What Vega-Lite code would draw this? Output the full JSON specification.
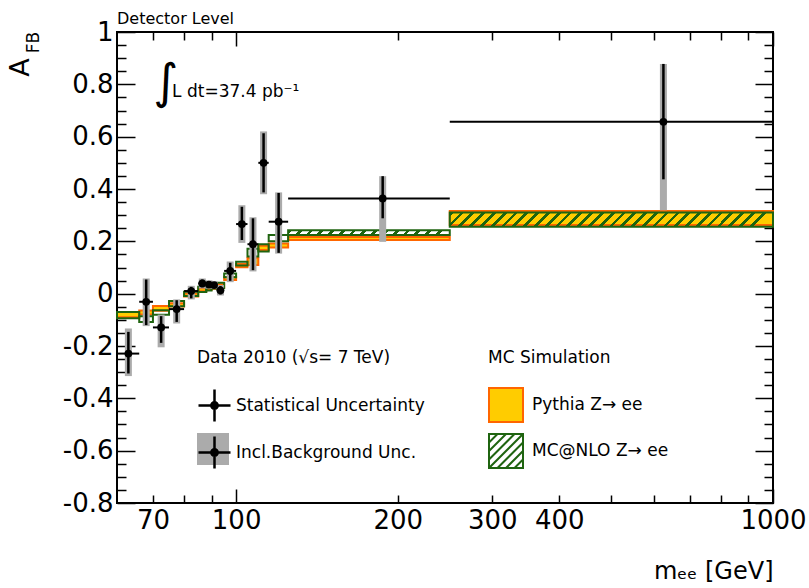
{
  "$schema": "https://vega.github.io/schema/vega-lite/v6.json",
  "width": 656,
  "height": 471,
  "autosize": {"type": "none"},
  "padding": {"left": 117, "top": 32, "right": 36, "bottom": 85},
  "background": "white",
  "title": {"text": "Detector Level", "anchor": "start", "frame": "group", "offset": -8, "font": "DejaVu Sans", "fontSize": 16, "fontWeight": "normal", "color": "black"},
  "config": {
    "view": {"stroke": "black", "strokeWidth": 2},
    "axis": {"grid": false, "domain": false, "labelFont": "DejaVu Sans", "labelFontSize": 26, "labelColor": "black", "tickColor": "black", "tickWidth": 1.5, "titleFont": "DejaVu Sans", "titleFontWeight": "normal", "titleColor": "black", "labelOverlap": false, "labelFlush": false, "labelBound": false}
  },
  "datasets": {
    "atlas": [
      {"lo": 60, "hi": 66, "m": 63, "afb": -0.229, "stat_lo": -0.305, "stat_hi": -0.146, "tot_lo": -0.315, "tot_hi": -0.133},
      {"lo": 66, "hi": 70, "m": 68, "afb": -0.031, "stat_lo": -0.12, "stat_hi": 0.054, "tot_lo": -0.124, "tot_hi": 0.058},
      {"lo": 70, "hi": 75, "m": 72.5, "afb": -0.129, "stat_lo": -0.188, "stat_hi": -0.086, "tot_lo": -0.205, "tot_hi": -0.08},
      {"lo": 75, "hi": 80, "m": 77.5, "afb": -0.059, "stat_lo": -0.108, "stat_hi": -0.025, "tot_lo": -0.114, "tot_hi": -0.022},
      {"lo": 80, "hi": 85, "m": 82.5, "afb": 0.01, "stat_lo": -0.018, "stat_hi": 0.026, "tot_lo": -0.022, "tot_hi": 0.03},
      {"lo": 85, "hi": 88, "m": 86.5, "afb": 0.039, "stat_lo": 0.024, "stat_hi": 0.054, "tot_lo": 0.02, "tot_hi": 0.058},
      {"lo": 88, "hi": 90, "m": 89, "afb": 0.035, "stat_lo": 0.022, "stat_hi": 0.048, "tot_lo": 0.019, "tot_hi": 0.051},
      {"lo": 90, "hi": 92, "m": 91, "afb": 0.033, "stat_lo": 0.022, "stat_hi": 0.044, "tot_lo": 0.019, "tot_hi": 0.047},
      {"lo": 92, "hi": 95, "m": 93.5, "afb": 0.013, "stat_lo": -0.003, "stat_hi": 0.029, "tot_lo": -0.007, "tot_hi": 0.033},
      {"lo": 95, "hi": 100, "m": 97.5, "afb": 0.087, "stat_lo": 0.049, "stat_hi": 0.118, "tot_lo": 0.044, "tot_hi": 0.123},
      {"lo": 100, "hi": 105, "m": 102.5, "afb": 0.266, "stat_lo": 0.205, "stat_hi": 0.332, "tot_lo": 0.194, "tot_hi": 0.338},
      {"lo": 105, "hi": 110, "m": 107.5, "afb": 0.189, "stat_lo": 0.09, "stat_hi": 0.288, "tot_lo": 0.085, "tot_hi": 0.292},
      {"lo": 110, "hi": 115, "m": 112.5, "afb": 0.5, "stat_lo": 0.387, "stat_hi": 0.613, "tot_lo": 0.38, "tot_hi": 0.62},
      {"lo": 115, "hi": 125, "m": 120, "afb": 0.275, "stat_lo": 0.156, "stat_hi": 0.385, "tot_lo": 0.153, "tot_hi": 0.387},
      {"lo": 125, "hi": 250, "m": 187.5, "afb": 0.364, "stat_lo": 0.288, "stat_hi": 0.449, "tot_lo": 0.198, "tot_hi": 0.449},
      {"lo": 250, "hi": 1000, "m": 625, "afb": 0.657, "stat_lo": 0.437, "stat_hi": 0.878, "tot_lo": 0.319, "tot_hi": 0.878}
    ],
    "mc": [
      {"gen": "Pythia", "lo": 60, "hi": 66, "a_lo": -0.09, "a_hi": -0.07},
      {"gen": "Pythia", "lo": 66, "hi": 70, "a_lo": -0.08, "a_hi": -0.064},
      {"gen": "Pythia", "lo": 70, "hi": 75, "a_lo": -0.065, "a_hi": -0.047},
      {"gen": "Pythia", "lo": 75, "hi": 80, "a_lo": -0.049, "a_hi": -0.037},
      {"gen": "Pythia", "lo": 80, "hi": 85, "a_lo": -0.011, "a_hi": 0.001},
      {"gen": "Pythia", "lo": 85, "hi": 88, "a_lo": 0.009, "a_hi": 0.021},
      {"gen": "Pythia", "lo": 88, "hi": 90, "a_lo": 0.014, "a_hi": 0.026},
      {"gen": "Pythia", "lo": 90, "hi": 92, "a_lo": 0.019, "a_hi": 0.031},
      {"gen": "Pythia", "lo": 92, "hi": 95, "a_lo": 0.024, "a_hi": 0.036},
      {"gen": "Pythia", "lo": 95, "hi": 100, "a_lo": 0.052, "a_hi": 0.064},
      {"gen": "Pythia", "lo": 100, "hi": 105, "a_lo": 0.101, "a_hi": 0.113},
      {"gen": "Pythia", "lo": 105, "hi": 110, "a_lo": 0.11, "a_hi": 0.136},
      {"gen": "Pythia", "lo": 110, "hi": 115, "a_lo": 0.167, "a_hi": 0.183},
      {"gen": "Pythia", "lo": 115, "hi": 125, "a_lo": 0.176, "a_hi": 0.192},
      {"gen": "Pythia", "lo": 125, "hi": 250, "a_lo": 0.205, "a_hi": 0.217},
      {"gen": "Pythia", "lo": 250, "hi": 1000, "a_lo": 0.262, "a_hi": 0.316},
      {"gen": "MC@NLO", "lo": 60, "hi": 66, "a_lo": -0.094, "a_hi": -0.07},
      {"gen": "MC@NLO", "lo": 66, "hi": 70, "a_lo": -0.108, "a_hi": -0.086},
      {"gen": "MC@NLO", "lo": 70, "hi": 75, "a_lo": -0.081, "a_hi": -0.063},
      {"gen": "MC@NLO", "lo": 75, "hi": 80, "a_lo": -0.048, "a_hi": -0.028},
      {"gen": "MC@NLO", "lo": 80, "hi": 85, "a_lo": -0.009, "a_hi": 0.007},
      {"gen": "MC@NLO", "lo": 85, "hi": 88, "a_lo": 0.006, "a_hi": 0.026},
      {"gen": "MC@NLO", "lo": 88, "hi": 90, "a_lo": 0.012, "a_hi": 0.032},
      {"gen": "MC@NLO", "lo": 90, "hi": 92, "a_lo": 0.02, "a_hi": 0.04},
      {"gen": "MC@NLO", "lo": 92, "hi": 95, "a_lo": 0.022, "a_hi": 0.042},
      {"gen": "MC@NLO", "lo": 95, "hi": 100, "a_lo": 0.063, "a_hi": 0.077},
      {"gen": "MC@NLO", "lo": 100, "hi": 105, "a_lo": 0.108, "a_hi": 0.122},
      {"gen": "MC@NLO", "lo": 105, "hi": 110, "a_lo": 0.142, "a_hi": 0.172},
      {"gen": "MC@NLO", "lo": 110, "hi": 115, "a_lo": 0.161, "a_hi": 0.189},
      {"gen": "MC@NLO", "lo": 115, "hi": 125, "a_lo": 0.2, "a_hi": 0.224},
      {"gen": "MC@NLO", "lo": 125, "hi": 250, "a_lo": 0.224, "a_hi": 0.242},
      {"gen": "MC@NLO", "lo": 250, "hi": 1000, "a_lo": 0.256, "a_hi": 0.31}
    ]
  },
  "layer": [
    {
      "data": {"name": "mc"},
      "transform": [{"filter": "datum.gen === 'Pythia'"}],
      "mark": {"type": "rect", "fill": "#ffcc00", "stroke": "#ff6600", "strokeWidth": 2},
      "encoding": {
        "x": {
          "field": "lo", "type": "quantitative",
          "scale": {"type": "log", "domain": [60, 1000], "nice": false},
          "axis": {
            "orient": "bottom",
            "values": [70, 80, 90, 100, 200, 300, 400, 500, 600, 700, 800, 900, 1000],
            "labelExpr": "indexof([70, 100, 200, 300, 400, 1000], datum.value) >= 0 ? format(datum.value, 'd') : ''",
            "tickSize": {"condition": {"test": "datum.value == 100 || datum.value == 1000", "value": -14}, "value": -8},
            "labelPadding": {"condition": {"test": "datum.value == 100 || datum.value == 1000", "value": 18}, "value": 12},
            "title": "mₑₑ [GeV]", "titleFontSize": 24, "titleX": 656, "titleY": 75, "titleAlign": "right", "titleBaseline": "alphabetic", "titleAnchor": "end"
          }
        },
        "x2": {"field": "hi"},
        "y": {
          "field": "a_lo", "type": "quantitative",
          "scale": {"domain": [-0.8, 1], "nice": false, "zero": false},
          "axis": {
            "orient": "left",
            "values": [-0.8, -0.75, -0.7, -0.65, -0.6, -0.55, -0.5, -0.45, -0.4, -0.35, -0.3, -0.25, -0.2, -0.15, -0.1, -0.05, 0, 0.05, 0.1, 0.15, 0.2, 0.25, 0.3, 0.35, 0.4, 0.45, 0.5, 0.55, 0.6, 0.65, 0.7, 0.75, 0.8, 0.85, 0.9, 0.95, 1],
            "labelExpr": "abs(datum.value * 5 - round(datum.value * 5)) < 0.001 ? replace(format(datum.value, '.1~f'), '\u2212', '-') : ''",
            "tickSize": {"condition": {"test": "abs(datum.value * 5 - round(datum.value * 5)) < 0.001", "value": -18}, "value": -9},
            "labelPadding": 22,
            "title": "A", "titleFontSize": 27, "titleAngle": 270, "titleX": -89, "titleY": 35, "titleAlign": "center", "titleBaseline": "alphabetic"
          }
        },
        "y2": {"field": "a_hi"}
      }
    },
    {
      "data": {"name": "mc"},
      "transform": [{"filter": "datum.gen === 'MC@NLO'"}],
      "mark": {"type": "rect", "stroke": "#1f6410", "strokeWidth": 2},
      "encoding": {
        "x": {
          "field": "lo", "type": "quantitative",
          "axis": {
            "orient": "top", "labels": false, "title": null,
            "values": [70, 80, 90, 100, 200, 300, 400, 500, 600, 700, 800, 900, 1000],
            "tickSize": {"condition": {"test": "datum.value == 100 || datum.value == 1000", "value": -14}, "value": -8}
          }
        },
        "x2": {"field": "hi"},
        "y": {
          "field": "a_lo", "type": "quantitative",
          "axis": {
            "orient": "right", "labels": false,
            "values": [-0.8, -0.75, -0.7, -0.65, -0.6, -0.55, -0.5, -0.45, -0.4, -0.35, -0.3, -0.25, -0.2, -0.15, -0.1, -0.05, 0, 0.05, 0.1, 0.15, 0.2, 0.25, 0.3, 0.35, 0.4, 0.45, 0.5, 0.55, 0.6, 0.65, 0.7, 0.75, 0.8, 0.85, 0.9, 0.95, 1],
            "tickSize": {"condition": {"test": "abs(datum.value * 5 - round(datum.value * 5)) < 0.001", "value": -18}, "value": -9},
            "title": "FB", "titleFontSize": 17, "titleAngle": 270, "titleX": -735, "titleY": 10, "titleAlign": "center", "titleBaseline": "alphabetic"
          }
        },
        "y2": {"field": "a_hi"},
        "fill": {
          "condition": [
            {"test": "datum.lo === 250", "value": {"gradient": "linear", "x1": 0, "y1": 0, "x2": 1, "y2": 0.0437, "stops": [
              {"offset": 0, "color": "#1f6410"}, {"offset": 0.0117, "color": "#1f6410"}, {"offset": 0.0117, "color": "transparent"}, {"offset": 0.0333, "color": "transparent"},
              {"offset": 0.0333, "color": "#1f6410"}, {"offset": 0.045, "color": "#1f6410"}, {"offset": 0.045, "color": "transparent"}, {"offset": 0.0667, "color": "transparent"},
              {"offset": 0.0667, "color": "#1f6410"}, {"offset": 0.0783, "color": "#1f6410"}, {"offset": 0.0783, "color": "transparent"}, {"offset": 0.1, "color": "transparent"},
              {"offset": 0.1, "color": "#1f6410"}, {"offset": 0.1117, "color": "#1f6410"}, {"offset": 0.1117, "color": "transparent"}, {"offset": 0.1333, "color": "transparent"},
              {"offset": 0.1333, "color": "#1f6410"}, {"offset": 0.145, "color": "#1f6410"}, {"offset": 0.145, "color": "transparent"}, {"offset": 0.1667, "color": "transparent"},
              {"offset": 0.1667, "color": "#1f6410"}, {"offset": 0.1783, "color": "#1f6410"}, {"offset": 0.1783, "color": "transparent"}, {"offset": 0.2, "color": "transparent"},
              {"offset": 0.2, "color": "#1f6410"}, {"offset": 0.2117, "color": "#1f6410"}, {"offset": 0.2117, "color": "transparent"}, {"offset": 0.2333, "color": "transparent"},
              {"offset": 0.2333, "color": "#1f6410"}, {"offset": 0.245, "color": "#1f6410"}, {"offset": 0.245, "color": "transparent"}, {"offset": 0.2667, "color": "transparent"},
              {"offset": 0.2667, "color": "#1f6410"}, {"offset": 0.2783, "color": "#1f6410"}, {"offset": 0.2783, "color": "transparent"}, {"offset": 0.3, "color": "transparent"},
              {"offset": 0.3, "color": "#1f6410"}, {"offset": 0.3117, "color": "#1f6410"}, {"offset": 0.3117, "color": "transparent"}, {"offset": 0.3333, "color": "transparent"},
              {"offset": 0.3333, "color": "#1f6410"}, {"offset": 0.345, "color": "#1f6410"}, {"offset": 0.345, "color": "transparent"}, {"offset": 0.3667, "color": "transparent"},
              {"offset": 0.3667, "color": "#1f6410"}, {"offset": 0.3783, "color": "#1f6410"}, {"offset": 0.3783, "color": "transparent"}, {"offset": 0.4, "color": "transparent"},
              {"offset": 0.4, "color": "#1f6410"}, {"offset": 0.4117, "color": "#1f6410"}, {"offset": 0.4117, "color": "transparent"}, {"offset": 0.4333, "color": "transparent"},
              {"offset": 0.4333, "color": "#1f6410"}, {"offset": 0.445, "color": "#1f6410"}, {"offset": 0.445, "color": "transparent"}, {"offset": 0.4667, "color": "transparent"},
              {"offset": 0.4667, "color": "#1f6410"}, {"offset": 0.4783, "color": "#1f6410"}, {"offset": 0.4783, "color": "transparent"}, {"offset": 0.5, "color": "transparent"},
              {"offset": 0.5, "color": "#1f6410"}, {"offset": 0.5117, "color": "#1f6410"}, {"offset": 0.5117, "color": "transparent"}, {"offset": 0.5333, "color": "transparent"},
              {"offset": 0.5333, "color": "#1f6410"}, {"offset": 0.545, "color": "#1f6410"}, {"offset": 0.545, "color": "transparent"}, {"offset": 0.5667, "color": "transparent"},
              {"offset": 0.5667, "color": "#1f6410"}, {"offset": 0.5783, "color": "#1f6410"}, {"offset": 0.5783, "color": "transparent"}, {"offset": 0.6, "color": "transparent"},
              {"offset": 0.6, "color": "#1f6410"}, {"offset": 0.6117, "color": "#1f6410"}, {"offset": 0.6117, "color": "transparent"}, {"offset": 0.6333, "color": "transparent"},
              {"offset": 0.6333, "color": "#1f6410"}, {"offset": 0.645, "color": "#1f6410"}, {"offset": 0.645, "color": "transparent"}, {"offset": 0.6667, "color": "transparent"},
              {"offset": 0.6667, "color": "#1f6410"}, {"offset": 0.6783, "color": "#1f6410"}, {"offset": 0.6783, "color": "transparent"}, {"offset": 0.7, "color": "transparent"},
              {"offset": 0.7, "color": "#1f6410"}, {"offset": 0.7117, "color": "#1f6410"}, {"offset": 0.7117, "color": "transparent"}, {"offset": 0.7333, "color": "transparent"},
              {"offset": 0.7333, "color": "#1f6410"}, {"offset": 0.745, "color": "#1f6410"}, {"offset": 0.745, "color": "transparent"}, {"offset": 0.7667, "color": "transparent"},
              {"offset": 0.7667, "color": "#1f6410"}, {"offset": 0.7783, "color": "#1f6410"}, {"offset": 0.7783, "color": "transparent"}, {"offset": 0.8, "color": "transparent"},
              {"offset": 0.8, "color": "#1f6410"}, {"offset": 0.8117, "color": "#1f6410"}, {"offset": 0.8117, "color": "transparent"}, {"offset": 0.8333, "color": "transparent"},
              {"offset": 0.8333, "color": "#1f6410"}, {"offset": 0.845, "color": "#1f6410"}, {"offset": 0.845, "color": "transparent"}, {"offset": 0.8667, "color": "transparent"},
              {"offset": 0.8667, "color": "#1f6410"}, {"offset": 0.8783, "color": "#1f6410"}, {"offset": 0.8783, "color": "transparent"}, {"offset": 0.9, "color": "transparent"},
              {"offset": 0.9, "color": "#1f6410"}, {"offset": 0.9117, "color": "#1f6410"}, {"offset": 0.9117, "color": "transparent"}, {"offset": 0.9333, "color": "transparent"},
              {"offset": 0.9333, "color": "#1f6410"}, {"offset": 0.945, "color": "#1f6410"}, {"offset": 0.945, "color": "transparent"}, {"offset": 0.9667, "color": "transparent"},
              {"offset": 0.9667, "color": "#1f6410"}, {"offset": 0.9783, "color": "#1f6410"}, {"offset": 0.9783, "color": "transparent"}, {"offset": 1, "color": "transparent"}
            ]}},
            {"test": "datum.lo === 125", "value": {"gradient": "linear", "x1": 0, "y1": 0, "x2": 1, "y2": 0.029, "stops": [
              {"offset": 0, "color": "#1f6410"}, {"offset": 0.0233, "color": "#1f6410"}, {"offset": 0.0233, "color": "transparent"}, {"offset": 0.0667, "color": "transparent"},
              {"offset": 0.0667, "color": "#1f6410"}, {"offset": 0.09, "color": "#1f6410"}, {"offset": 0.09, "color": "transparent"}, {"offset": 0.1333, "color": "transparent"},
              {"offset": 0.1333, "color": "#1f6410"}, {"offset": 0.1567, "color": "#1f6410"}, {"offset": 0.1567, "color": "transparent"}, {"offset": 0.2, "color": "transparent"},
              {"offset": 0.2, "color": "#1f6410"}, {"offset": 0.2233, "color": "#1f6410"}, {"offset": 0.2233, "color": "transparent"}, {"offset": 0.2667, "color": "transparent"},
              {"offset": 0.2667, "color": "#1f6410"}, {"offset": 0.29, "color": "#1f6410"}, {"offset": 0.29, "color": "transparent"}, {"offset": 0.3333, "color": "transparent"},
              {"offset": 0.3333, "color": "#1f6410"}, {"offset": 0.3567, "color": "#1f6410"}, {"offset": 0.3567, "color": "transparent"}, {"offset": 0.4, "color": "transparent"},
              {"offset": 0.4, "color": "#1f6410"}, {"offset": 0.4233, "color": "#1f6410"}, {"offset": 0.4233, "color": "transparent"}, {"offset": 0.4667, "color": "transparent"},
              {"offset": 0.4667, "color": "#1f6410"}, {"offset": 0.49, "color": "#1f6410"}, {"offset": 0.49, "color": "transparent"}, {"offset": 0.5333, "color": "transparent"},
              {"offset": 0.5333, "color": "#1f6410"}, {"offset": 0.5567, "color": "#1f6410"}, {"offset": 0.5567, "color": "transparent"}, {"offset": 0.6, "color": "transparent"},
              {"offset": 0.6, "color": "#1f6410"}, {"offset": 0.6233, "color": "#1f6410"}, {"offset": 0.6233, "color": "transparent"}, {"offset": 0.6667, "color": "transparent"},
              {"offset": 0.6667, "color": "#1f6410"}, {"offset": 0.69, "color": "#1f6410"}, {"offset": 0.69, "color": "transparent"}, {"offset": 0.7333, "color": "transparent"},
              {"offset": 0.7333, "color": "#1f6410"}, {"offset": 0.7567, "color": "#1f6410"}, {"offset": 0.7567, "color": "transparent"}, {"offset": 0.8, "color": "transparent"},
              {"offset": 0.8, "color": "#1f6410"}, {"offset": 0.8233, "color": "#1f6410"}, {"offset": 0.8233, "color": "transparent"}, {"offset": 0.8667, "color": "transparent"},
              {"offset": 0.8667, "color": "#1f6410"}, {"offset": 0.89, "color": "#1f6410"}, {"offset": 0.89, "color": "transparent"}, {"offset": 0.9333, "color": "transparent"},
              {"offset": 0.9333, "color": "#1f6410"}, {"offset": 0.9567, "color": "#1f6410"}, {"offset": 0.9567, "color": "transparent"}, {"offset": 1, "color": "transparent"}
            ]}}
          ],
          "value": "transparent"
        }
      }
    },
    {
      "data": {"name": "atlas"},
      "mark": {"type": "rule", "color": "#ababab", "strokeWidth": 7},
      "encoding": {
        "x": {"field": "m", "type": "quantitative", "axis": null},
        "y": {"field": "tot_lo", "type": "quantitative", "axis": null},
        "y2": {"field": "tot_hi"}
      }
    },
    {
      "data": {"name": "atlas"},
      "mark": {"type": "rule", "color": "black", "strokeWidth": 2},
      "encoding": {
        "x": {"field": "lo", "type": "quantitative", "axis": null},
        "x2": {"field": "hi"},
        "y": {"field": "afb", "type": "quantitative", "axis": null}
      }
    },
    {
      "data": {"name": "atlas"},
      "mark": {"type": "rule", "color": "black", "strokeWidth": 2.5},
      "encoding": {
        "x": {"field": "m", "type": "quantitative", "axis": null},
        "y": {"field": "stat_lo", "type": "quantitative", "axis": null},
        "y2": {"field": "stat_hi"}
      }
    },
    {
      "data": {"name": "atlas"},
      "mark": {"type": "point", "filled": true, "color": "black", "size": 60, "opacity": 1},
      "encoding": {
        "x": {"field": "m", "type": "quantitative", "axis": null},
        "y": {"field": "afb", "type": "quantitative", "axis": null}
      }
    },
    {
      "data": {"name": "atlas"},
      "mark": {"type": "point", "opacity": 0, "filled": true},
      "encoding": {
        "fill": {
          "datum": "Statistical Uncertainty ", "type": "nominal",
          "scale": {"domain": ["Statistical Uncertainty ", "Incl.Background Unc. "], "range": ["transparent", "#ababab"]},
          "legend": {
            "title": null, "orient": "none", "legendX": 80, "legendY": 356, "direction": "vertical", "padding": 0,
            "labelExpr": "''", "labelFont": "DejaVu Sans", "labelFontSize": 17, "labelOffset": 4,
            "symbolType": "square", "symbolSize": 1024, "symbolStrokeWidth": 0, "symbolOffset": 0, "rowPadding": 13, "symbolOpacity": 1
          }
        }
      }
    },
    {
      "data": {"name": "atlas"},
      "mark": {"type": "point", "opacity": 0, "filled": false, "color": "black", "strokeWidth": 2.5},
      "encoding": {
        "shape": {
          "datum": "Statistical Uncertainty", "type": "nominal",
          "scale": {"domain": ["Statistical Uncertainty", "Incl.Background Unc."], "range": [
            "M-1,0H1M0,-1V1M0.2,0A0.2,0.2,0,1,1,-0.2,0A0.2,0.2,0,1,1,0.2,0ZM0.08,0A0.08,0.08,0,1,1,-0.08,0A0.08,0.08,0,1,1,0.08,0Z",
            "M-1,0H1M0,-1V1M0.2,0A0.2,0.2,0,1,1,-0.2,0A0.2,0.2,0,1,1,0.2,0ZM0.08,0A0.08,0.08,0,1,1,-0.08,0A0.08,0.08,0,1,1,0.08,0Z"
          ]},
          "legend": {
            "title": "Data 2010 (√s= 7 TeV)", "orient": "none", "legendX": 80, "legendY": 318, "direction": "vertical", "padding": 0,
            "titleFont": "DejaVu Sans", "titleFontSize": 17, "titleFontWeight": "normal", "titleColor": "black", "titlePadding": 21, "titleLimit": 400,
            "labelFont": "DejaVu Sans", "labelFontSize": 17, "labelColor": "black", "labelOffset": 4, "labelLimit": 400,
            "symbolSize": 1024, "symbolStrokeWidth": 2.5, "symbolStrokeColor": "black", "symbolOffset": 0, "rowPadding": 4, "symbolOpacity": 1
          }
        }
      }
    },
    {
      "data": {"name": "atlas"},
      "mark": {"type": "point", "opacity": 0, "filled": true},
      "encoding": {
        "shape": {
          "datum": "Pythia Z→ ee", "type": "nominal",
          "scale": {"domain": ["Pythia Z→ ee", "MC@NLO Z→ ee"], "range": [
            "M-1,-1H1V1H-1Z",
            "M-1,-1H1V1H-1ZM-1,-0.5L-0.5,-1M-1,0L0,-1M-1,0.5L0.5,-1M-1,1L1,-1M-0.5,1L1,-0.5M0,1L1,0M0.5,1L1,0.5"
          ]},
          "legend": {
            "title": "MC Simulation", "orient": "none", "legendX": 371, "legendY": 318, "direction": "vertical", "padding": 0,
            "titleFont": "DejaVu Sans", "titleFontSize": 17, "titleFontWeight": "normal", "titleColor": "black", "titlePadding": 20, "titleLimit": 400,
            "labelFont": "DejaVu Sans", "labelFontSize": 17, "labelColor": "black", "labelOffset": 8, "labelLimit": 400,
            "symbolSize": 1156, "symbolStrokeWidth": 2, "symbolOffset": 0, "rowPadding": 4, "symbolOpacity": 1
          }
        },
        "fill": {
          "datum": "Pythia Z→ ee", "type": "nominal",
          "scale": {"domain": ["Pythia Z→ ee", "MC@NLO Z→ ee"], "range": ["#ffcc00", "#ffffff"]},
          "legend": {}
        },
        "stroke": {
          "datum": "Pythia Z→ ee", "type": "nominal",
          "scale": {"domain": ["Pythia Z→ ee", "MC@NLO Z→ ee"], "range": ["#ff6600", "#1f6410"]},
          "legend": {}
        }
      }
    },
    {
      "data": {"values": [{}]},
      "mark": {"type": "text", "text": "∫", "font": "DejaVu Sans", "fontSize": 48, "align": "center", "baseline": "middle", "color": "black"},
      "encoding": {
        "x": {"datum": 74, "type": "quantitative", "axis": null},
        "y": {"datum": 0.8, "type": "quantitative", "axis": null}
      }
    },
    {
      "data": {"values": [{}]},
      "mark": {"type": "text", "text": "L dt=37.4 pb⁻¹", "font": "DejaVu Sans", "fontSize": 17, "align": "left", "baseline": "alphabetic", "color": "black"},
      "encoding": {
        "x": {"datum": 76.0, "type": "quantitative", "axis": null},
        "y": {"datum": 0.751, "type": "quantitative", "axis": null}
      }
    }
  ],
  "resolve": {
    "axis": {"x": "independent", "y": "independent"},
    "scale": {"shape": "independent", "fill": "independent", "stroke": "independent"}
  }
}
